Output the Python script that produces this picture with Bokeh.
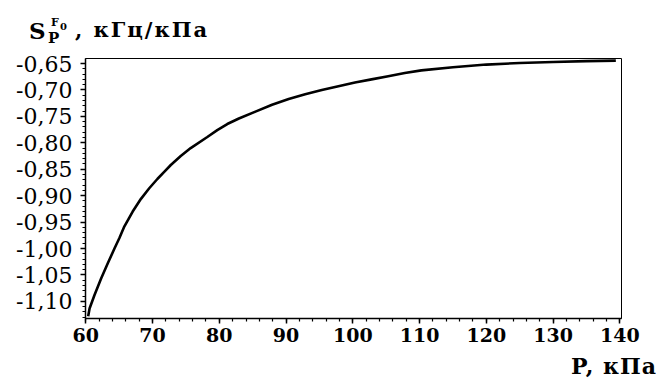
from bokeh.plotting import figure
from bokeh.models import FixedTicker, CustomJSTickFormatter, Range1d, Div
from bokeh.layouts import column
from bokeh.embed import file_html
from bokeh.resources import INLINE

# Data
pressure_kpa = [60.35, 60.56, 61.30, 62.29, 63.29, 64.29, 65.03, 65.78, 67.02, 68.26,
                69.50, 70.75, 71.74, 72.73, 74.22, 75.71, 78.20, 79.69, 81.19, 82.93,
                85.41, 87.90, 90.39, 92.86, 95.35, 97.84, 100.32, 102.80, 105.30,
                107.78, 110.27, 115.0, 120.0, 125.0, 130.0, 135.0, 139.4]
sensitivity = [-1.128, -1.1135, -1.088, -1.0567, -1.028, -1.000, -0.980, -0.958, -0.930,
               -0.906, -0.886, -0.868, -0.855, -0.842, -0.825, -0.810, -0.789, -0.776,
               -0.7645, -0.754, -0.741, -0.728, -0.717, -0.708, -0.700, -0.693, -0.686,
               -0.680, -0.674, -0.668, -0.663, -0.657, -0.652, -0.649, -0.647, -0.6455,
               -0.6445]

x_ticks = [60, 70, 80, 90, 100, 110, 120, 130, 140]
y_ticks = [-0.65, -0.70, -0.75, -0.80, -0.85, -0.90, -0.95, -1.00, -1.05, -1.10]

y_title_main = "S"
y_title_sup = ("F", "0")
y_title_sub = "P"
y_title_unit = ", кГц/кПа"
x_title = "P, кПа"

FONT = "DejaVu Serif"
W = 661
TOP_H = 44      # strip holding the y-axis title
MAIN_H = 306    # main chart
BOT_H = 28      # strip holding the x-axis title


def span(text, left, baseline, size, right=None, spacing=0):
    top = baseline - 0.846 * size
    pos = f"left:{left}px;" if right is None else f"right:{right}px;"
    return (f'<span style="position:absolute;{pos}top:{top:.1f}px;font-size:{size}px;'
            f'line-height:1;white-space:pre;letter-spacing:{spacing}px;">{text}</span>')


base_style = (f"position:relative;width:{W}px;height:{{h}}px;overflow:visible;"
              f"font-family:'{FONT}';font-weight:bold;color:black;margin:0;padding:0;")

top_html = (f'<div style="{base_style.format(h=TOP_H)}">'
            + span(y_title_main, 29, 38, 23)
            + span(y_title_sup[0], 51, 26, 11)
            + span(y_title_sup[1], 60, 30, 10)
            + span(y_title_sub, 48, 44, 15)
            + span(y_title_unit, 75, 37, 21, spacing=2)
            + '</div>')
top = Div(text=top_html, width=W, height=TOP_H, margin=0)

# ---- main chart
p = figure(width=W, height=MAIN_H, output_backend="svg", toolbar_location=None,
           x_range=Range1d(59.95, 140.25), y_range=Range1d(-1.1324, -0.6405),
           min_border_left=85, min_border_right=40, min_border_top=58 - TOP_H,
           min_border_bottom=TOP_H + MAIN_H - 318, margin=0)

p.line(pressure_kpa, sensitivity, line_color="black", line_width=2.6)

p.grid.visible = False
p.outline_line_color = "black"
p.outline_line_width = 1
p.background_fill_color = "white"
p.border_fill_color = "white"

fmt = CustomJSTickFormatter(code="return tick.toFixed(2).replace('.', ',');")
p.yaxis.ticker = FixedTicker(ticks=y_ticks,
                             minor_ticks=[round(-0.64 - 0.01 * i, 2) for i in range(0, 50)])
p.yaxis.formatter = fmt
p.xaxis.ticker = FixedTicker(ticks=x_ticks, minor_ticks=list(range(60, 141, 2)))

for ax in (p.xaxis[0], p.yaxis[0]):
    ax.axis_line_color = "black"
    ax.axis_line_width = 1.5
    ax.major_tick_line_color = "black"
    ax.major_tick_line_width = 1.5
    ax.minor_tick_line_color = "black"
    ax.minor_tick_line_width = 1.2
    ax.major_tick_out = 5
    ax.major_tick_in = 0
    ax.minor_tick_out = 3
    ax.minor_tick_in = 0
    ax.major_label_text_font = FONT
    ax.major_label_text_color = "black"

p.yaxis.major_label_text_font_style = "normal"
p.yaxis.major_label_text_font_size = "22px"
p.xaxis.major_label_text_font_style = "bold"
p.xaxis.major_label_text_font_size = "19px"
p.yaxis.major_label_standoff = 8
p.xaxis.major_label_standoff = 4

# ---- bottom strip: P, кПа
bot_html = (f'<div style="{base_style.format(h=BOT_H)}">'
            + span(x_title, None, 374 - (TOP_H + MAIN_H), 22, right=4, spacing=1)
            + '</div>')
bot = Div(text=bot_html, width=W, height=BOT_H, margin=0)

layout = column(top, p, bot, spacing=0, margin=0)
open("out.html", "w").write(file_html(layout, INLINE))
